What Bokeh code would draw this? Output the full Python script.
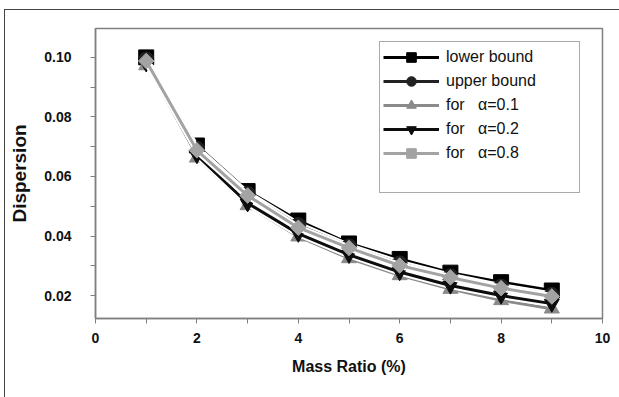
from bokeh.plotting import figure
from bokeh.models import Range1d, FixedTicker, PrintfTickFormatter, Legend, LegendItem
from bokeh.embed import file_html
from bokeh.resources import INLINE

mass_ratio = [1, 2, 3, 4, 5, 6, 7, 8, 9]
lower_bound = [0.1000, 0.0704, 0.0551, 0.0452, 0.0375, 0.0323, 0.0277, 0.0245, 0.0217]
upper_bound = [0.0993, 0.0693, 0.0541, 0.0437, 0.0365, 0.0308, 0.0265, 0.0230, 0.0202]
alpha_01 = [0.0973, 0.0663, 0.0503, 0.0398, 0.0325, 0.0268, 0.0222, 0.0184, 0.0156]
alpha_02 = [0.0980, 0.0672, 0.0510, 0.0408, 0.0337, 0.0279, 0.0234, 0.0200, 0.0173]
alpha_08 = [0.0988, 0.0688, 0.0536, 0.0428, 0.0360, 0.0301, 0.0261, 0.0225, 0.0197]

x_ticks = [0, 2, 4, 6, 8, 10]
x_minor = [1, 3, 5, 7, 9]
y_ticks = [0.02, 0.04, 0.06, 0.08, 0.10]
y_minor = [0.03, 0.05, 0.07, 0.09]

labels = ["lower bound", "upper bound", "for   \u03b1=0.1", "for   \u03b1=0.2", "for   \u03b1=0.8"]
series = [lower_bound, upper_bound, alpha_01, alpha_02, alpha_08]
colors = ["#000000", "#222222", "#8a8a8a", "#0d0d0d", "#a3a3a3"]
markers = ["square", "circle", "triangle", "inverted_triangle", "square"]
sizes = [15, 15, 15, 15, 11]
angles = [0, 0, 0, 0, 0.785398]

p = figure(width=615, height=388, output_backend="svg", toolbar_location=None,
           x_range=Range1d(0, 10), y_range=Range1d(0.0123, 0.1097),
           min_border_left=90, min_border_right=18, min_border_top=18, min_border_bottom=80)
p.styles = {"margin-left": "4px", "margin-top": "9px",
            "border-left": "1.5px solid #444", "border-top": "1.5px solid #444"}

p.grid.visible = False
p.outline_line_color = "#808080"
p.outline_line_width = 1.5

items = []
for ys, lab, col, mk, sz, ang in zip(series, labels, colors, markers, sizes, angles):
    p.line(mass_ratio, ys, line_color="white", line_width=7)
    ln = p.line(mass_ratio, ys, line_color=col, line_width=3)
    sc = p.scatter(mass_ratio, ys, marker=mk, size=sz, angle=ang, fill_color=col, line_color=col)
    items.append(LegendItem(label=lab, renderers=[ln, sc]))

dummy = p.scatter([], [], alpha=0)
items.append(LegendItem(label=" ", renderers=[dummy]))

legend = Legend(items=items, location=(284, 125), padding=3, spacing=0,
                glyph_width=56, glyph_height=24, label_height=24, label_width=130,
                label_standoff=7, label_text_font="Liberation Sans", label_text_font_size="16px",
                label_text_color="#111111", border_line_color="#555555", border_line_width=1.5,
                background_fill_alpha=1)
p.add_layout(legend, "center")

for ax in (p.xaxis[0], p.yaxis[0]):
    ax.axis_line_color = "#808080"
    ax.axis_line_width = 1.5
    ax.major_tick_line_color = "#808080"
    ax.minor_tick_line_color = "#808080"
    ax.major_tick_out = 5
    ax.major_tick_in = 0
    ax.minor_tick_out = 5
    ax.minor_tick_in = 0
    ax.major_label_text_font = "Liberation Sans"
    ax.major_label_text_font_style = "bold"
    ax.major_label_text_font_size = "14px"
    ax.major_label_text_color = "#111111"
    ax.axis_label_text_font = "Liberation Sans"
    ax.axis_label_text_font_style = "bold"
    ax.axis_label_text_color = "#111111"

p.xaxis.ticker = FixedTicker(ticks=x_ticks, minor_ticks=x_minor)
p.yaxis.ticker = FixedTicker(ticks=y_ticks, minor_ticks=y_minor)
p.yaxis.formatter = PrintfTickFormatter(format="%.2f")
p.xaxis.major_label_standoff = 9
p.yaxis.major_label_standoff = 19
p.xaxis.axis_label = "Mass Ratio (%)"
p.yaxis.axis_label = "Dispersion"
p.xaxis.axis_label_text_font_size = "16px"
p.yaxis.axis_label_text_font_size = "19px"
p.xaxis.axis_label_standoff = 12
p.yaxis.axis_label_standoff = 11

open("out.html", "w").write(file_html(p, INLINE))
